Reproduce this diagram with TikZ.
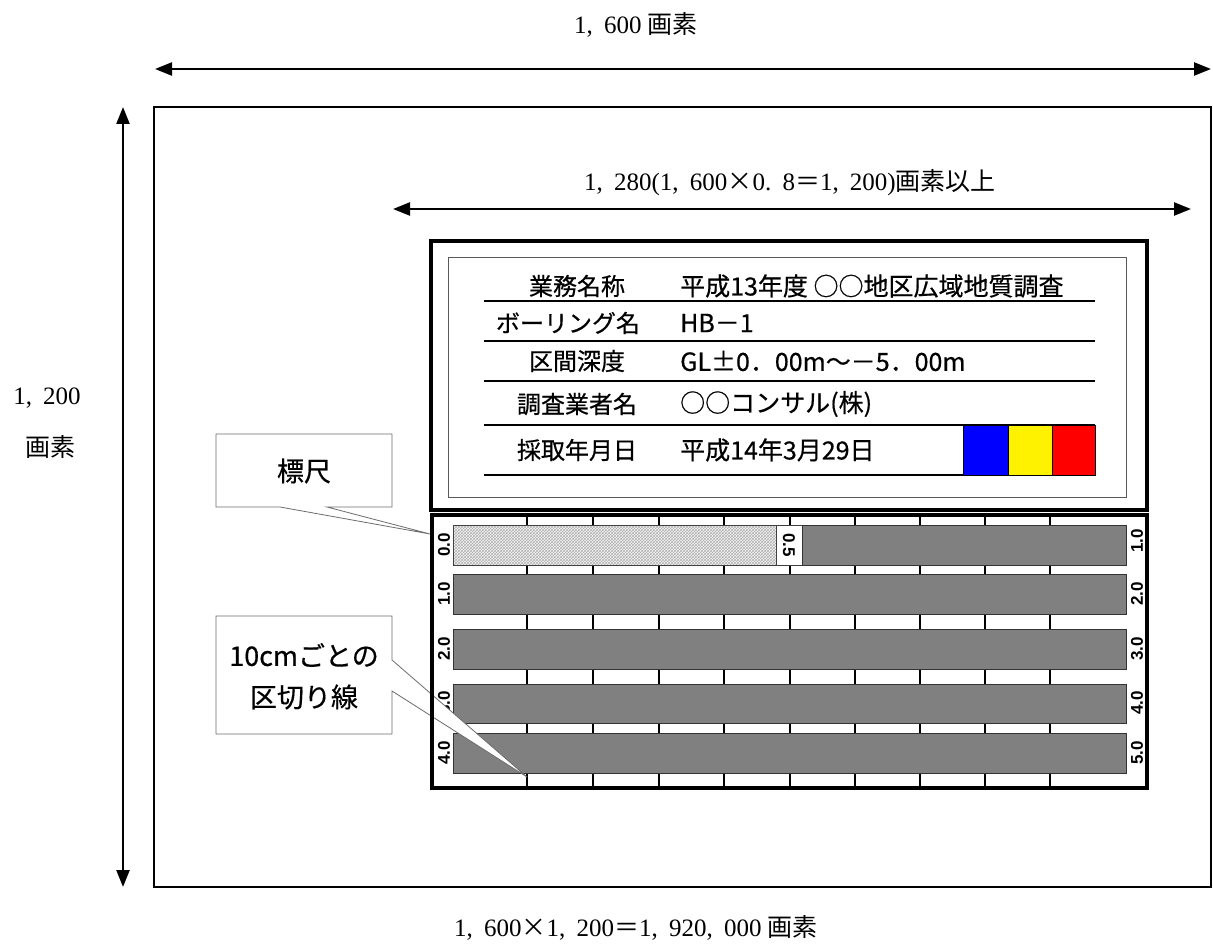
\documentclass[tikz,border=0pt]{standalone}
\usepackage{fontspec}
\newfontfamily\jp[FakeBold=0.5]{Noto Sans CJK JP}
\newfontfamily\jps{Noto Sans CJK JP}
\newfontfamily\ser{Liberation Serif}
\newfontfamily\ars{Liberation Sans}
\newcommand{\cm}{,\hspace{0.45em}}
\usetikzlibrary{arrows.meta,patterns}
\tikzset{
  dimarrow/.style={line width=2.4pt,{Triangle[length=17pt,width=13pt]}-{Triangle[length=17pt,width=13pt]}},
  sertext/.style={inner sep=0pt,font=\fontsize{25}{28}\selectfont\ser},
  jptext/.style={inner sep=0pt,font=\fontsize{24}{28}\selectfont\jp},
  valtext/.style={inner sep=0pt,anchor=west,font=\fontsize{25}{28}\selectfont\jp},
  calltext/.style={inner sep=0pt,font=\fontsize{27}{30}\selectfont\jp},
  rowline/.style={line width=1.8pt},
  thickbox/.style={line width=3.6pt},
  bar/.style={fill=gray,draw=black!80,line width=0.9pt},
  scalelabel/.style={inner sep=0pt,font=\fontsize{17}{19}\selectfont\ars\bfseries},
  tick/.style={line width=1.6pt},
  callout/.style={fill=white,draw=gray!85!black,line width=0.8pt}
}
\begin{document}
\begin{tikzpicture}[x=1pt,y=-1pt]
\useasboundingbox[fill=white] (0,0) rectangle (1213,947);
% dimension labels
\node[sertext] (w1600) at (636,25) {1\cm600 {\jps 画素}};
\coordinate (a1) at (155,69); \coordinate (a2) at (1211,69);
\draw[dimarrow] (a1) -- (a2);
\coordinate (v1) at (123,107); \coordinate (v2) at (123,887);
\draw[dimarrow] (v1) -- (v2);
\node[sertext] (h1200) at (47,398) {1\cm200};
\node[sertext] (hpx) at (50,447) {\jps 画素};
\node[sertext] (w1280) at (790,183) {1\cm280(1\cm600{\jps ×}0.\hspace{0.45em}8{\jps ＝}1\cm200){\jps 画素以上}};
\coordinate (m1) at (393,209); \coordinate (m2) at (1191,209);
\draw[dimarrow] (m1) -- (m2);
\node[sertext] (total) at (636,928) {1\cm600{\jps ×}1\cm200{\jps ＝}1\cm920\cm000 {\jps 画素}};
% outer frame
\draw[line width=1.6pt] (154,107) rectangle (1211,887);
% info board
\draw[thickbox] (431,241) rectangle (1147,510);
\draw[draw=gray!70!black,line width=0.8pt] (448,257) rectangle (1126,497);
\foreach \yy in {301,341,381,425,475} \draw[rowline] (484,\yy) -- (1095,\yy);
\node[jptext] (l1) at (577,286) {業務名称};
\node[jptext] (l2) at (568,323) {ボーリング名};
\node[jptext] (l3) at (577,361) {区間深度};
\node[jptext] (l4) at (577,404) {調査業者名};
\node[jptext] (l5) at (577,450) {採取年月日};
\node[valtext] (v1t) at (680,286) {平成13年度 ○○地区広域地質調査};
\node[valtext] (v2t) at (680,323) {HB－1};
\node[valtext] (v3t) at (680,361) {GL±0．00m～－5．00m};
\node[valtext] (v4t) at (680,404) {○○コンサル(株)};
\node[valtext] (v5t) at (680,450) {平成14年3月29日};
\draw[fill=blue,line width=0.8pt] (963,425) rectangle (1008,475);
\draw[fill=yellow,line width=0.8pt] (1008,425) rectangle (1052,475);
\draw[fill=red,line width=0.8pt] (1052,425) rectangle (1095,475);
% core tray
\foreach \xx in {527,593,659,724,790,855,920,985,1050} \draw[tick] (\xx,515) -- (\xx,788);
\draw[draw=black!75,line width=0.9pt,pattern=crosshatch,pattern color=gray!60,preaction={fill=gray!8}] (453,525) rectangle (776,565);
\draw[fill=white,draw=black!75,line width=0.9pt] (776,525) rectangle (802,565);
\draw[bar] (802,525) rectangle (1126,565);
\draw[bar] (453,574) rectangle (1126,614);
\draw[bar] (453,629) rectangle (1126,669);
\draw[bar] (453,684) rectangle (1126,723);
\draw[bar] (453,733) rectangle (1126,773);
\node[scalelabel,rotate=-90] (h05) at (789,545) {0.5};
\foreach \yy/\lab in {545/0.0,594/1.0,649/2.0,703/3.0,753/4.0}
  \node[scalelabel,rotate=90] at (444,\yy) {\lab};
\foreach \yy/\lab in {541/1.0,594/2.0,649/3.0,703/4.0,753/5.0}
  \node[scalelabel,rotate=90] at (1137,\yy) {\lab};
% callouts
\draw[callout] (216,434) -- (392,434) -- (392,507) -- (327,507) -- (430,534) -- (280,507) -- (216,507) -- cycle;
\node[calltext] (c1) at (304,471) {標尺};
\draw[callout] (216,616) -- (392,616) -- (392,660) -- (527,777) -- (392,691) -- (392,734) -- (216,734) -- cycle;
\node[calltext] (c2a) at (304,655) {10cmごとの};
\node[calltext] (c2b) at (304,697) {区切り線};
\draw[thickbox] (432,515) rectangle (1147,788);
\end{tikzpicture}
\end{document}
